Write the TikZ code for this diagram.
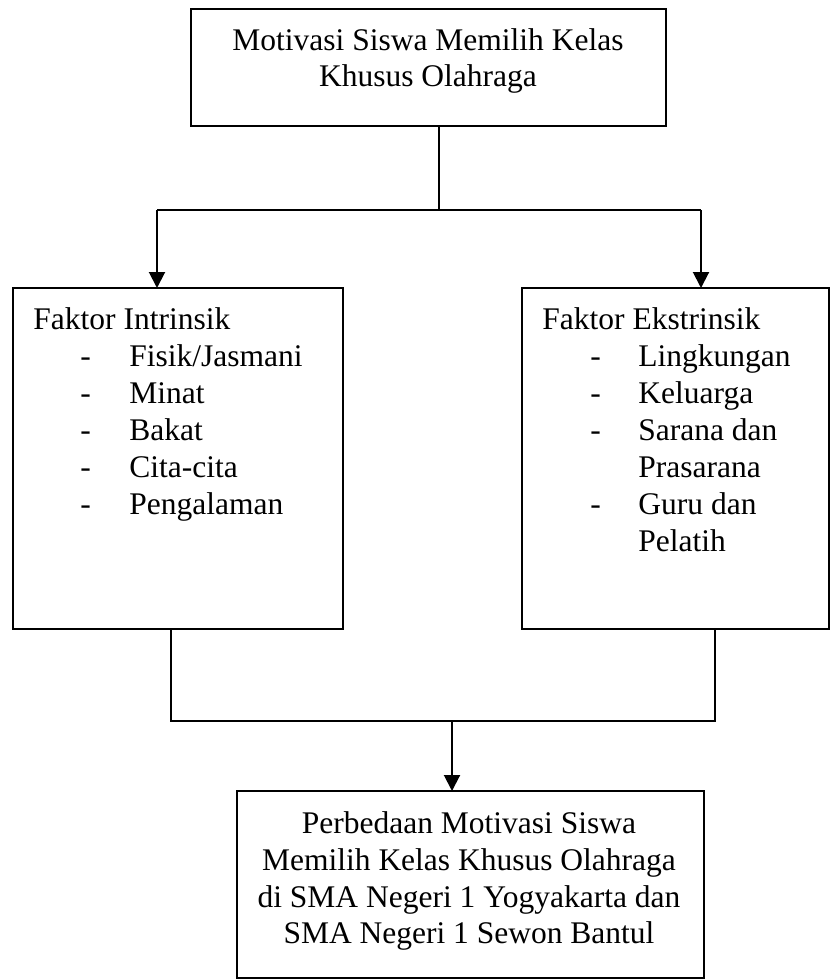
\documentclass[tikz,border=0pt]{standalone}
\usepackage{fontspec}
\setmainfont{Liberation Serif}
\usetikzlibrary{arrows.meta}
\begin{document}
\begin{tikzpicture}[x=0.5pt,y=-0.5pt,
  box/.style={draw, line width=1pt, inner sep=0pt, outer sep=0pt, anchor=north west},
  conn/.style={line width=1pt},
  arr/.style={line width=1pt, -{Triangle[length=8pt,width=8pt]}},
  txt/.style={inner sep=0pt, font=\fontsize{15.75pt}{18.5pt}\selectfont},
  ctxt/.style={txt, anchor=base},
  ltxt/.style={txt, anchor=base west}]
\useasboundingbox (0,0) rectangle (830,979);
% boxes
\node[box, minimum width=237.5pt, minimum height=58.5pt] (top) at (191,9) {};
\node[box, minimum width=165pt, minimum height=170.5pt] (left) at (13,288) {};
\node[box, minimum width=153.5pt, minimum height=170.5pt] (right) at (522,288) {};
\node[box, minimum width=233.5pt, minimum height=93.5pt] (bot) at (237,791) {};
% top text
\node[ctxt] (t1) at (428,51) {Motivasi Siswa Memilih Kelas};
\node[ctxt] (t2) at (428,87) {Khusus Olahraga};
% left text
\node[ltxt] (l0) at (33,329) {Faktor Intrinsik};
\node[ltxt] (ld1) at (80,366) {-};
\node[ltxt] (l1) at (129,366) {Fisik/Jasmani};
\node[ltxt] (ld2) at (80,403) {-};
\node[ltxt] (l2) at (129,403) {Minat};
\node[ltxt] (ld3) at (80,440) {-};
\node[ltxt] (l3) at (129,440) {Bakat};
\node[ltxt] (ld4) at (80,477) {-};
\node[ltxt] (l4) at (129,477) {Cita-cita};
\node[ltxt] (ld5) at (80,514) {-};
\node[ltxt] (l5) at (129,514) {Pengalaman};
% right text
\node[ltxt] (r0) at (542,329) {Faktor Ekstrinsik};
\node[ltxt] (rd1) at (590,366) {-};
\node[ltxt] (r1) at (638,366) {Lingkungan};
\node[ltxt] (rd2) at (590,403) {-};
\node[ltxt] (r2) at (638,403) {Keluarga};
\node[ltxt] (rd3) at (590,440) {-};
\node[ltxt] (r3) at (638,440) {Sarana dan};
\node[ltxt] (r4) at (638,477) {Prasarana};
\node[ltxt] (rd5) at (590,514) {-};
\node[ltxt] (r5) at (638,514) {Guru dan};
\node[ltxt] (r6) at (638,551) {Pelatih};
% bottom text
\node[ctxt] (b1) at (469,833) {Perbedaan Motivasi Siswa};
\node[ctxt] (b2) at (469,870) {Memilih Kelas Khusus Olahraga};
\node[ctxt] (b3) at (469,907) {di SMA Negeri 1 Yogyakarta dan};
\node[ctxt] (b4) at (469,943) {SMA Negeri 1 Sewon Bantul};
% connectors
\coordinate (jt) at (439,210);
\coordinate (aL) at (157,210);
\coordinate (aR) at (701,210);
\draw[conn] (top.south -| jt) -- (jt);
\draw[conn] (aL) -- (aR);
\draw[arr] (aL) -- (aL |- left.north);
\draw[arr] (aR) -- (aR |- right.north);
\coordinate (bL) at (171,721);
\coordinate (bR) at (715,721);
\coordinate (bM) at (452,721);
\draw[conn] (left.south -| bL) -- (bL) -- (bR) -- (right.south -| bR);
\draw[arr] (bM) -- (bM |- bot.north);
\end{tikzpicture}
\end{document}
